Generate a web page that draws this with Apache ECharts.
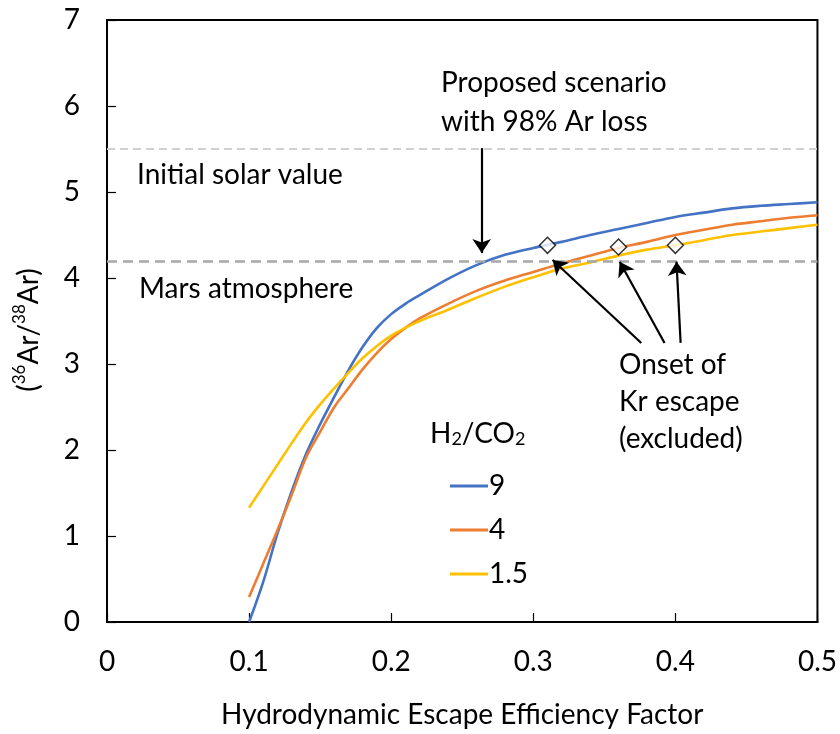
<!DOCTYPE html>
<html>
<head>
<meta charset="utf-8">
<script src="https://cdn.jsdelivr.net/npm/echarts@6/dist/echarts.min.js"></script>
<style>
html,body{margin:0;padding:0;background:#fff;}
#chart{width:840px;height:734px;}
</style>
</head>
<body>
<div id="chart"></div>
<script>
// ---- data ----
var xValues = [0.10,0.11,0.12,0.13,0.14,0.15,0.16,0.17,0.18,0.19,0.20,0.21,0.22,0.24,0.26,0.28,0.30,0.32,0.34,0.36,0.38,0.40,0.42,0.44,0.46,0.48,0.50];
var ratio9  = [0.00,0.47,1.03,1.52,1.95,2.30,2.62,2.93,3.20,3.42,3.58,3.70,3.80,3.99,4.15,4.27,4.35,4.42,4.50,4.57,4.64,4.71,4.76,4.81,4.84,4.86,4.88];
var ratio4  = [0.29,0.68,1.07,1.48,1.91,2.21,2.50,2.72,2.94,3.13,3.29,3.42,3.53,3.70,3.85,3.97,4.07,4.17,4.26,4.35,4.42,4.50,4.56,4.62,4.66,4.70,4.73];
var ratio15 = [1.33,1.58,1.83,2.08,2.32,2.53,2.72,2.90,3.07,3.21,3.33,3.42,3.50,3.63,3.77,3.90,4.01,4.11,4.18,4.26,4.33,4.38,4.44,4.50,4.54,4.58,4.62];
var seriesNames = ['9','4','1.5'];
var krOnsetX = [0.31, 0.36, 0.40];
var krOnsetY = [4.38, 4.36, 4.38];
var solarValue = 5.5;
var marsValue = 4.2;
var xTickLabels = ['0','0.1','0.2','0.3','0.4','0.5'];
// annotation arrows, data units
var arrowStartX = [0.2637, 0.376, 0.3924, 0.4037];
var arrowStartY = [5.51, 3.245, 3.245, 3.245];
var arrowEndX   = [0.2637, 0.3136, 0.3608, 0.4008];
var arrowEndY   = [4.29, 4.21, 4.19, 4.19];

var FONT = 'Lato';
var colors = ['#4472C4', '#ED7D31', '#FFC000'];

function pairs(xs, ys) { return xs.map(function (x, i) { return [x, ys[i]]; }); }

var chart = echarts.init(document.getElementById('chart'), null, {renderer: 'canvas'});

var arrowData = arrowStartX.map(function (x, i) {
  return [{coord: [x, arrowStartY[i]]}, {coord: [arrowEndX[i], arrowEndY[i]]}];
});

var lineSeries = [ratio9, ratio4, ratio15].map(function (vals, i) {
  return {
    name: seriesNames[i], type: 'line', smooth: 0.35, showSymbol: false, symbol: 'none',
    data: pairs(xValues, vals), z: 3,
    lineStyle: {color: colors[i], width: 2.6}, itemStyle: {color: colors[i]}
  };
});

var option = {
  backgroundColor: '#fff',
  animation: false,
  textStyle: {fontFamily: FONT},
  grid: {left: 107, top: 20, right: 22, bottom: 112, show: true, borderColor: '#000', borderWidth: 2, backgroundColor: 'transparent'},
  xAxis: {
    type: 'value', min: 0, max: 0.5, interval: 0.1,
    axisLine: {show: true, lineStyle: {color: '#000', width: 2}},
    axisTick: {show: true, inside: true, length: 9, lineStyle: {color: '#000', width: 1.2}},
    splitLine: {show: false},
    axisLabel: {color: '#000', fontSize: 28, fontFamily: FONT, margin: 26,
      formatter: function (v) { return xTickLabels[Math.round(v * 10)]; }},
    name: 'Hydrodynamic Escape Efficiency Factor', nameLocation: 'middle', nameGap: 79,
    nameTextStyle: {color: '#000', fontSize: 28, fontFamily: FONT}
  },
  yAxis: {
    type: 'value', min: 0, max: 7, interval: 1,
    axisLine: {show: true, lineStyle: {color: '#000', width: 2}},
    axisTick: {show: true, inside: true, length: 9, lineStyle: {color: '#000', width: 1.2}},
    splitLine: {show: false},
    axisLabel: {color: '#000', fontSize: 28, fontFamily: FONT, margin: 27}
  },
  legend: {
    data: seriesNames, orient: 'vertical', left: 445, top: 467,
    icon: 'rect', itemWidth: 38, itemHeight: 3, itemGap: 16,
    textStyle: {color: '#000', fontSize: 28, lineHeight: 28, fontFamily: FONT, padding: [0, 0, 0, -4]},
    selectedMode: false
  },
  series: lineSeries.concat([
    {
      name: 'refs', type: 'line', data: [], silent: true,
      markLine: {
        silent: true, symbol: ['none', 'none'], label: {show: false},
        data: [
          {yAxis: solarValue, lineStyle: {color: '#d0d0d0', width: 2, type: [8, 5]}},
          {yAxis: marsValue, lineStyle: {color: '#a6a6a6', width: 2.6, type: [10, 6]}}
        ]
      }
    },
    {
      name: 'arrows', type: 'line', data: [], silent: true,
      markLine: {
        silent: true, symbol: ['none', 'arrow'], symbolSize: 14, label: {show: false},
        lineStyle: {color: '#000', width: 2.2, type: 'solid'},
        data: arrowData
      }
    },
    {
      name: 'Kr onset', type: 'scatter', data: pairs(krOnsetX, krOnsetY), z: 5,
      symbol: 'diamond', symbolSize: 16,
      itemStyle: {color: '#fff', borderColor: '#000', borderWidth: 1.5}
    }
  ]),
  graphic: [
    {type: 'text', x: 27, y: 330, rotation: Math.PI / 2, z: 10, style: {
      text: '{n|(}{s|36}{n|Ar/}{s|38}{n|Ar)}', align: 'center', verticalAlign: 'middle', fill: '#000',
      rich: {
        n: {fontSize: 28, lineHeight: 32, fontFamily: FONT, fill: '#000', verticalAlign: 'bottom'},
        s: {fontSize: 17, lineHeight: 32, fontFamily: FONT, fill: '#000', verticalAlign: 'top'}
      }
    }},
    {type: 'text', left: 137, top: 161, style: {text: 'Initial solar value', fontSize: 28, lineHeight: 28, fontFamily: FONT, fill: '#000'}},
    {type: 'text', left: 139, top: 275, style: {text: 'Mars atmosphere', fontSize: 28, lineHeight: 28, fontFamily: FONT, fill: '#000'}},
    {type: 'text', left: 441, top: 64, style: {text: 'Proposed scenario\nwith 98% Ar loss', fontSize: 28, lineHeight: 38.5, fontFamily: FONT, fill: '#000'}},
    {type: 'text', left: 619, top: 346, style: {text: 'Onset of\nKr escape\n(excluded)', fontSize: 28, lineHeight: 37, fontFamily: FONT, fill: '#000'}},
    {type: 'text', left: 430, top: 420, style: {
      text: '{n|H}{b|2}{n|/CO}{b|2}', fontFamily: FONT, fill: '#000',
      rich: {
        n: {fontSize: 28, lineHeight: 32, fontFamily: FONT, verticalAlign: 'bottom'},
        b: {fontSize: 18, lineHeight: 32, fontFamily: FONT, verticalAlign: 'bottom'}
      }
    }}
  ]
};
chart.setOption(option);
</script>
</body>
</html>
